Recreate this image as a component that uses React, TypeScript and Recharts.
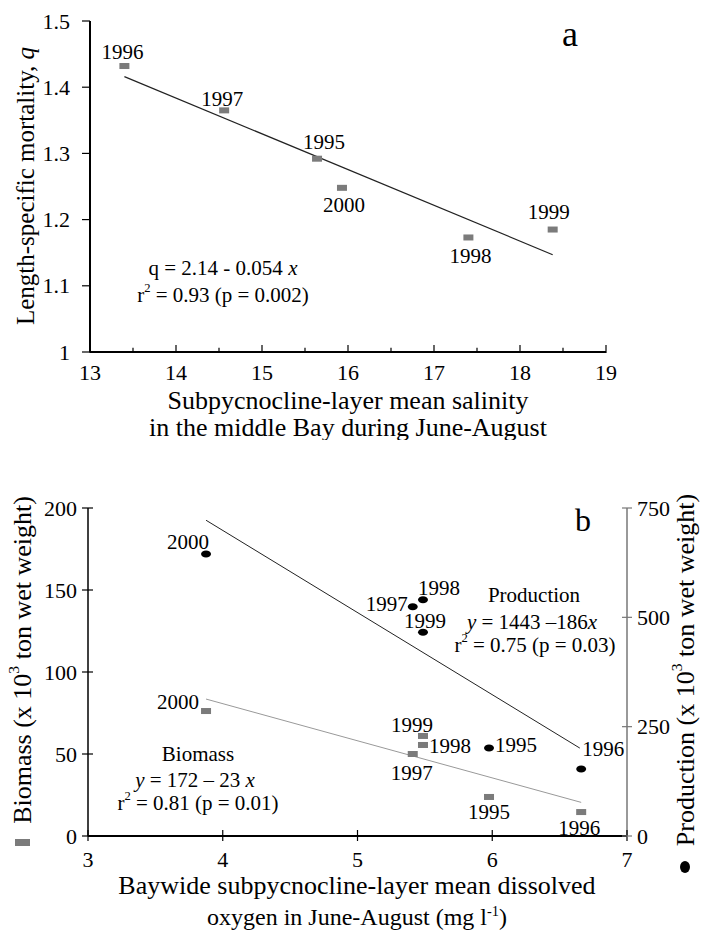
import { ScatterChart, Scatter, XAxis, YAxis, ReferenceLine } from "recharts";

// panel a: salinity vs mortality
const salinityYears = ["1996", "1997", "1995", "2000", "1998", "1999"];
const salinity = [13.4, 14.56, 15.64, 15.93, 17.4, 18.38];
const mortality = [1.432, 1.365, 1.292, 1.248, 1.173, 1.185];
const mortalityFitX = [13.4, 18.38];
const mortalityFitY = [1.416, 1.147];

// panel b: oxygen vs biomass / production
const oxygenYears = ["2000", "1997", "1998", "1999", "1995", "1996"];
const oxygen = [3.876, 5.41, 5.486, 5.486, 5.976, 6.66];
const biomass = [76.2, 50.0, 55.5, 61.0, 23.8, 14.6];
const production = [645, 524, 540, 466, 201, 153];
const biomassFitX = [3.876, 6.66];
const biomassFitY = [83.5, 20.5];
const productionFitX = [3.876, 6.65];
const productionFitY = [722, 201];

const salinityTicks = [13, 13.5, 14, 14.5, 15, 15.5, 16, 16.5, 17, 17.5, 18, 18.5, 19];
const mortalityTicks = [1, 1.1, 1.2, 1.3, 1.4, 1.5];
const oxygenTicks = [3, 4, 5, 6, 7];
const biomassTicks = [0, 50, 100, 150, 200];
const productionTicks = [0, 250, 500, 750];

const mortalityData = salinity.map((x, i) => ({ x, y: mortality[i], year: salinityYears[i] }));
const biomassData = oxygen.map((x, i) => ({ x, y: biomass[i], year: oxygenYears[i] }));
const productionData = oxygen.map((x, i) => ({ x, y: production[i], year: oxygenYears[i] }));

const FONT = "Liberation Serif, Times New Roman, Times, serif";
const GRAY = "#7b7b7b";

// label offsets from each mark (text centre)
const mortalityLabel: Record<string, [number, number]> = {
  "1996": [-2, -14], "1997": [-2, -11], "1995": [7, -17],
  "2000": [2, 17], "1998": [2, 19], "1999": [-4, -18],
};
const biomassLabel: Record<string, [number, number]> = {
  "2000": [-28, -9], "1997": [-1, 19], "1998": [27, 1],
  "1999": [-11, -11], "1995": [0, 15], "1996": [-2, 16],
};
const productionLabel: Record<string, [number, number]> = {
  "2000": [-18, -12], "1997": [-26, -3], "1998": [16, -12],
  "1999": [2, -11], "1995": [27, -3], "1996": [22, -20],
};

const txt = { fontFamily: FONT, fill: "#000" };

const squareShape = (offsets: Record<string, [number, number]>) => (p: any) => {
  const [dx, dy] = offsets[p.payload.year] ?? [0, -14];
  return (
    <g>
      <rect x={p.cx - 5} y={p.cy - 3} width={10} height={6} fill={GRAY} />
      <text x={p.cx + dx} y={p.cy + dy} textAnchor="middle" dominantBaseline="central" fontSize={21} {...txt}>
        {p.payload.year}
      </text>
    </g>
  );
};

const dotShape = (offsets: Record<string, [number, number]>) => (p: any) => {
  const [dx, dy] = offsets[p.payload.year] ?? [0, -14];
  return (
    <g>
      <ellipse cx={p.cx} cy={p.cy} rx={5} ry={3.5} fill="#000" />
      <text x={p.cx + dx} y={p.cy + dy} textAnchor="middle" dominantBaseline="central" fontSize={21} {...txt}>
        {p.payload.year}
      </text>
    </g>
  );
};

const xTick = (up: number, down: number, gap: number, color = "#000") => (p: any) => {
  const v = p.payload.value;
  const major = Number.isInteger(v);
  return (
    <g>
      <line x1={p.x} x2={p.x} y1={p.y - (major ? up : up * 0.6)} y2={p.y + down} stroke={color} strokeWidth={1.2} />
      {major && (
        <text x={p.x} y={p.y + gap} textAnchor="middle" dominantBaseline="central" fontSize={22} {...txt}>
          {v}
        </text>
      )}
    </g>
  );
};

const yTick = (out: number, inn: number, gap: number, side: "left" | "right", color = "#000") => (p: any) => {
  const s = side === "left" ? -1 : 1;
  return (
    <g>
      <line x1={p.x + s * out} x2={p.x - s * inn} y1={p.y} y2={p.y} stroke={color} strokeWidth={1.2} />
      <text x={p.x + s * gap} y={p.y} textAnchor={side === "left" ? "end" : "start"} dominantBaseline="central" fontSize={22} {...txt}>
        {p.payload.value}
      </text>
    </g>
  );
};

const Sup = ({ c, up = 0.55, after = " " }: { c: string; up?: number; after?: string }) => (
  <>
    <tspan fontSize="0.6em" dy={`${-up}em`}>{c}</tspan>
    <tspan dy={`${up * 0.6}em`}>{after}</tspan>
  </>
);

export default function App() {
  return (
    <div style={{ position: "absolute", left: 0, top: 0, width: 706, height: 930, background: "#fff", fontFamily: FONT }}>
      <ScatterChart width={706} height={440} margin={{ top: 21, right: 100, bottom: 58, left: 30 }}>
        <XAxis type="number" dataKey="x" domain={[13, 19]} ticks={salinityTicks} interval={0} height={30}
          axisLine={{ stroke: "#000", strokeWidth: 2 }} tickLine={false} tickSize={0} tickMargin={0}
          tick={xTick(7, 1, 20)} />
        <YAxis type="number" dataKey="y" domain={[1, 1.5]} ticks={mortalityTicks} interval={0} width={60}
          axisLine={{ stroke: "#000", strokeWidth: 2 }} tickLine={false} tickSize={0} tickMargin={0}
          tick={yTick(8, 0, 20, "left")} />
        <ReferenceLine
          segment={[{ x: mortalityFitX[0], y: mortalityFitY[0] }, { x: mortalityFitX[1], y: mortalityFitY[1] }]}
          stroke="#222" strokeWidth={1.2} />
        <Scatter data={mortalityData} isAnimationActive={false} shape={squareShape(mortalityLabel)} />
        <text x={570} y={34} textAnchor="middle" dominantBaseline="central" fontSize={36} {...txt}>a</text>
        <text x={223} y={268} textAnchor="middle" dominantBaseline="central" fontSize={21} {...txt}>
          q = 2.14 - 0.054 <tspan fontStyle="italic">x</tspan>
        </text>
        <text x={223} y={295} textAnchor="middle" dominantBaseline="central" fontSize={21} {...txt}>
          r<Sup c="2" />= 0.93 (p = 0.002)
        </text>
        <text x={348} y={400} textAnchor="middle" dominantBaseline="central" fontSize={26} {...txt}>
          Subpycnocline-layer mean salinity
        </text>
        <text x={348} y={427} textAnchor="middle" dominantBaseline="central" fontSize={26} {...txt}>
          in the middle Bay during June-August
        </text>
        <text transform="translate(25,186) rotate(-90)" textAnchor="middle" dominantBaseline="central" fontSize={25} {...txt}>
          Length-specific mortality, <tspan fontStyle="italic">q</tspan>
        </text>
      </ScatterChart>

      <ScatterChart width={706} height={490} margin={{ top: 68, right: 19, bottom: 64, left: 28 }}>
        <XAxis type="number" dataKey="x" domain={[3, 7]} ticks={oxygenTicks} interval={0} height={30}
          axisLine={{ stroke: "#000", strokeWidth: 2 }} tickLine={false} tickSize={0} tickMargin={0}
          tick={xTick(6, 5, 23)} />
        <YAxis yAxisId="left" type="number" dataKey="y" domain={[0, 200]} ticks={biomassTicks} interval={0} width={60}
          axisLine={{ stroke: "#000", strokeWidth: 1.5 }} tickLine={false} tickSize={0} tickMargin={0}
          tick={yTick(6, 5, 11, "left")} />
        <YAxis yAxisId="right" orientation="right" type="number" dataKey="y" domain={[0, 750]} ticks={productionTicks}
          interval={0} width={60} axisLine={{ stroke: "#777", strokeWidth: 1.5 }} tickLine={false} tickSize={0}
          tickMargin={0} tick={yTick(5, 5, 10, "right", "#777")} />
        <ReferenceLine yAxisId="right"
          segment={[{ x: productionFitX[0], y: productionFitY[0] }, { x: productionFitX[1], y: productionFitY[1] }]}
          stroke="#222" strokeWidth={1} />
        <ReferenceLine yAxisId="left"
          segment={[{ x: biomassFitX[0], y: biomassFitY[0] }, { x: biomassFitX[1], y: biomassFitY[1] }]}
          stroke="#999" strokeWidth={1} />
        <Scatter yAxisId="left" data={biomassData} isAnimationActive={false} shape={squareShape(biomassLabel)} />
        <Scatter yAxisId="right" data={productionData} isAnimationActive={false} shape={dotShape(productionLabel)} />
        <text x={583} y={80} textAnchor="middle" dominantBaseline="central" fontSize={32} {...txt}>b</text>
        <text x={534} y={155} textAnchor="middle" dominantBaseline="central" fontSize={21} {...txt}>Production</text>
        <text x={532} y={182} textAnchor="middle" dominantBaseline="central" fontSize={21} {...txt}>
          <tspan fontStyle="italic">y</tspan> = 1443 –186<tspan fontStyle="italic">x</tspan>
        </text>
        <text x={535} y={205} textAnchor="middle" dominantBaseline="central" fontSize={21} {...txt}>
          r<Sup c="2" />= 0.75 (p = 0.03)
        </text>
        <text x={198} y={314} textAnchor="middle" dominantBaseline="central" fontSize={21} {...txt}>Biomass</text>
        <text x={195} y={340} textAnchor="middle" dominantBaseline="central" fontSize={21} {...txt}>
          <tspan fontStyle="italic">y</tspan> = 172 – 23 <tspan fontStyle="italic">x</tspan>
        </text>
        <text x={198} y={363} textAnchor="middle" dominantBaseline="central" fontSize={21} {...txt}>
          r<Sup c="2" />= 0.81 (p = 0.01)
        </text>
        <text x={357} y={445} textAnchor="middle" dominantBaseline="central" fontSize={26} {...txt}>
          Baywide subpycnocline-layer mean dissolved
        </text>
        <text x={357} y={477} textAnchor="middle" dominantBaseline="central" fontSize={24} {...txt}>
          oxygen in June-August (mg l<Sup c="-1" up={0.4} after=")" />
        </text>
        <text transform="translate(22,220) rotate(-90)" textAnchor="middle" dominantBaseline="central" fontSize={26} {...txt}>
          Biomass (x 10<Sup c="3" />ton wet weight)
        </text>
        <rect x={15} y={399} width={15} height={7} fill={GRAY} />
        <text transform="translate(685,230) rotate(-90)" textAnchor="middle" dominantBaseline="central" fontSize={26} {...txt}>
          Production (x 10<Sup c="3" />ton wet weight)
        </text>
        <ellipse cx={685} cy={427} rx={5} ry={6} fill="#000" />
      </ScatterChart>
    </div>
  );
}
